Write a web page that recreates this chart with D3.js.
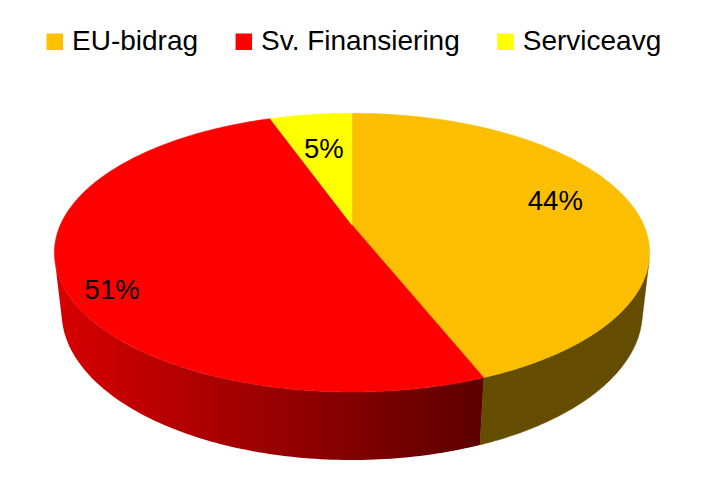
<!DOCTYPE html>
<html><head><meta charset="utf-8">
<script src="https://cdn.jsdelivr.net/npm/d3@7"></script>
<style>html,body{margin:0;padding:0;background:#fff;overflow:hidden}</style>
</head><body>
<svg id="c" width="706" height="480"></svg>
<script>
// ---- data ----
const categories = ["EU-bidrag", "Sv. Finansiering", "Serviceavg"];
const values = [44.0, 50.6, 5.4];
const labels = ["44%", "51%", "5%"];

// ---- style / layout ----
const topColors = ["#FBBE00", "#FE0000", "#FFFF00"];
const legendColors = ["#FFC000", "#FF0000", "#FFFF00"];
const font = "'Liberation Sans', Arial, sans-serif";
const labelRadius = [0.75, 0.87, 0.66];
const labelFrac = [0.473, 0.446, 0.51];

const svg = d3.select("#c");
const defs = svg.append("defs");

// perspective camera
const cx = 352, cy = 225, f = 1306, sinA = 0.459, cosA = Math.sqrt(1 - sinA * sinA);
const D = cosA / 0.1984, h = 0.232;
function proj(r, theta, Y) {
  const u = r * Math.sin(theta), v = -r * Math.cos(theta);
  const depth = D - (Y * sinA + v * cosA);
  return [cx + f * u / depth, cy - f * (Y * cosA - v * sinA) / depth];
}
function arcPts(a0, a1, Y, n) {
  const pts = [];
  for (let i = 0; i <= n; i++) pts.push(proj(1, a0 + (a1 - a0) * i / n, Y));
  return pts;
}

const pie = d3.pie().sort(null).value(d => d)(values);
const color = d3.scaleOrdinal().domain(categories).range(topColors);
const line = d3.line().curve(d3.curveLinear);

// side walls
const grad = defs.append("linearGradient").attr("id", "redSide")
  .attr("gradientUnits", "userSpaceOnUse").attr("x1", 54).attr("x2", 483).attr("y1", 0).attr("y2", 0);
grad.append("stop").attr("offset", 0).attr("stop-color", "#D80000");
grad.append("stop").attr("offset", 1).attr("stop-color", "#5C0000");
const sideFill = ["#654D00", "url(#redSide)", "#8a8a00"];

const t1 = Math.acos(-1 / (D * cosA)), t2 = 2 * Math.PI - t1;
pie.forEach((p, i) => {
  const a0 = Math.max(p.startAngle, t1), a1 = Math.min(p.endAngle, t2);
  if (a1 <= a0) return;
  const n = Math.max(4, Math.ceil((a1 - a0) * 60));
  const pts = arcPts(a0, a1, 0, n).concat(arcPts(a1, a0, -h, n));
  svg.append("path").attr("d", line(pts) + "Z")
    .attr("fill", sideFill[i]).attr("stroke", sideFill[i] === "url(#redSide)" ? "none" : sideFill[i]).attr("stroke-width", 0.5);
});

// top faces
pie.forEach((p, i) => {
  const n = Math.max(4, Math.ceil((p.endAngle - p.startAngle) * 60));
  const pts = [proj(0, 0, 0)].concat(arcPts(p.startAngle, p.endAngle, 0, n));
  svg.append("path").attr("d", line(pts) + "Z")
    .attr("fill", color(categories[i])).attr("stroke", color(categories[i])).attr("stroke-width", 0.6).attr("stroke-linejoin", "round");
});

// data labels
pie.forEach((p, i) => {
  const a = p.startAngle + labelFrac[i] * (p.endAngle - p.startAngle);
  const [x, y] = proj(labelRadius[i], a, 0);
  svg.append("text").attr("x", x).attr("y", y + 10)
    .attr("text-anchor", "middle").attr("font-family", font).attr("font-size", 27.5)
    .attr("fill", "#000").text(labels[i]);
});

// legend
let lx = 46.5;
const ly = 50;
categories.forEach((c, i) => {
  svg.append("rect").attr("x", lx).attr("y", ly - 16.5).attr("width", 16.5).attr("height", 16.5)
    .attr("fill", legendColors[i]);
  const t = svg.append("text").attr("x", lx + 25.5).attr("y", ly)
    .attr("font-family", font).attr("font-size", 28).attr("fill", "#000").text(c);
  lx += 25.5 + t.node().getComputedTextLength() + 37.5;
});
</script>
</body></html>
